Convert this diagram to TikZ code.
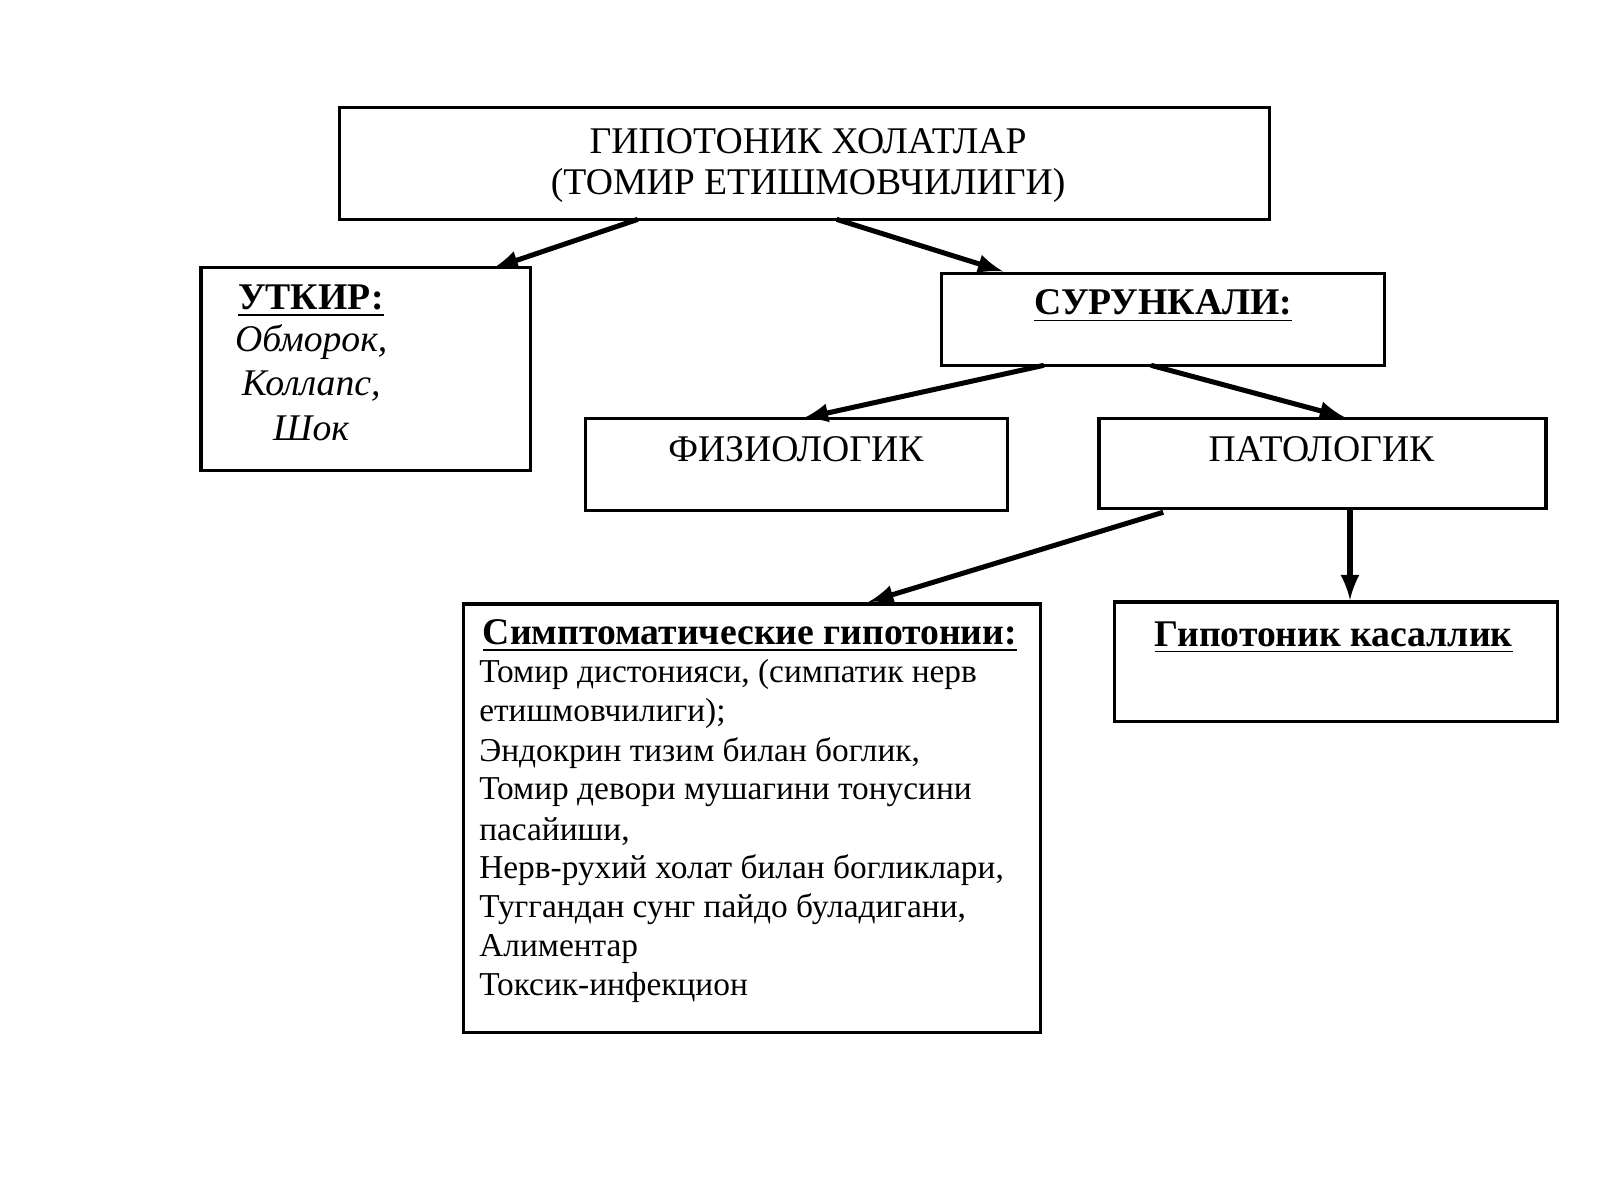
\documentclass[tikz,border=0pt]{standalone}
\usepackage{fontspec}
\setmainfont{Liberation Serif}
\usetikzlibrary{calc}
\begin{document}
\begin{tikzpicture}[x=0.01cm,y=-0.01cm,
  box/.style={draw,line width=0.9pt},
  arr/.style={-latex,line width=1.4pt},
  txt/.style={font=\fontsize{10.5}{12}\selectfont},
  lst/.style={font=\fontsize{9.3}{11}\selectfont,anchor=west,inner sep=0}]
\useasboundingbox (0,0) rectangle (1568,1176);
\draw[box] (333,105) rectangle (1244,215);
\node[txt] at (792,138) {ГИПОТОНИК ХОЛАТЛАР};
\node[txt] at (792,182) {(ТОМИР ЕТИШМОВЧИЛИГИ)};
\draw[box] (197,262) rectangle (520,461);
\node[txt] at (305,295) {\textbf{\underline{УТКИР:}}};
\node[txt] at (305,335) {\textit{Обморок,}};
\node[txt] at (305,378) {\textit{Коллапс,}};
\node[txt] at (305,420) {\textit{Шок}};
\draw[box] (923,268) rectangle (1357,358);
\node[txt] at (1140,300) {\textbf{\underline{СУРУНКАЛИ:}}};
\draw[box] (574,410) rectangle (987,500);
\node[txt] at (780,440) {ФИЗИОЛОГИК};
\draw[box] (1077,410) rectangle (1515,498);
\node[txt] at (1295,440) {ПАТОЛОГИК};
\draw[box] (454,592) rectangle (1020,1012);
\node[txt] at (735,623) {\textbf{\underline{Симптоматические гипотонии:}}};
\foreach \t [count=\i from 0] in {{Томир дистонияси, (симпатик нерв},{етишмовчилиги);},{Эндокрин тизим билан боглик,},{Томир девори мушагини тонусини},{пасайиши,},{Нерв-рухий холат билан богликлари,},{Туггандан сунг пайдо буладигани,},{Алиментар},{Токсик-инфекцион}}
  \node[lst] at (469,{661+38.4*\i}) {\t};
\draw[box] (1092,590) rectangle (1526,707);
\node[txt] at (1307,625) {\textbf{\underline{Гипотоник касаллик}}};
\coordinate (a1) at (625,215); \coordinate (b1) at (483,263);
\coordinate (a2) at (820,215); \coordinate (b2) at (983,266);
\coordinate (a3) at (1023,358); \coordinate (b3) at (787,410);
\coordinate (a4) at (1128,358); \coordinate (b4) at (1318,409);
\coordinate (a5) at (1140,502); \coordinate (b5) at (851,590);
\coordinate (a6) at (1323,500); \coordinate (b6) at (1323,588);
\foreach \i in {1,...,6} \draw[arr] (a\i) -- (b\i);
\end{tikzpicture}
\end{document}
